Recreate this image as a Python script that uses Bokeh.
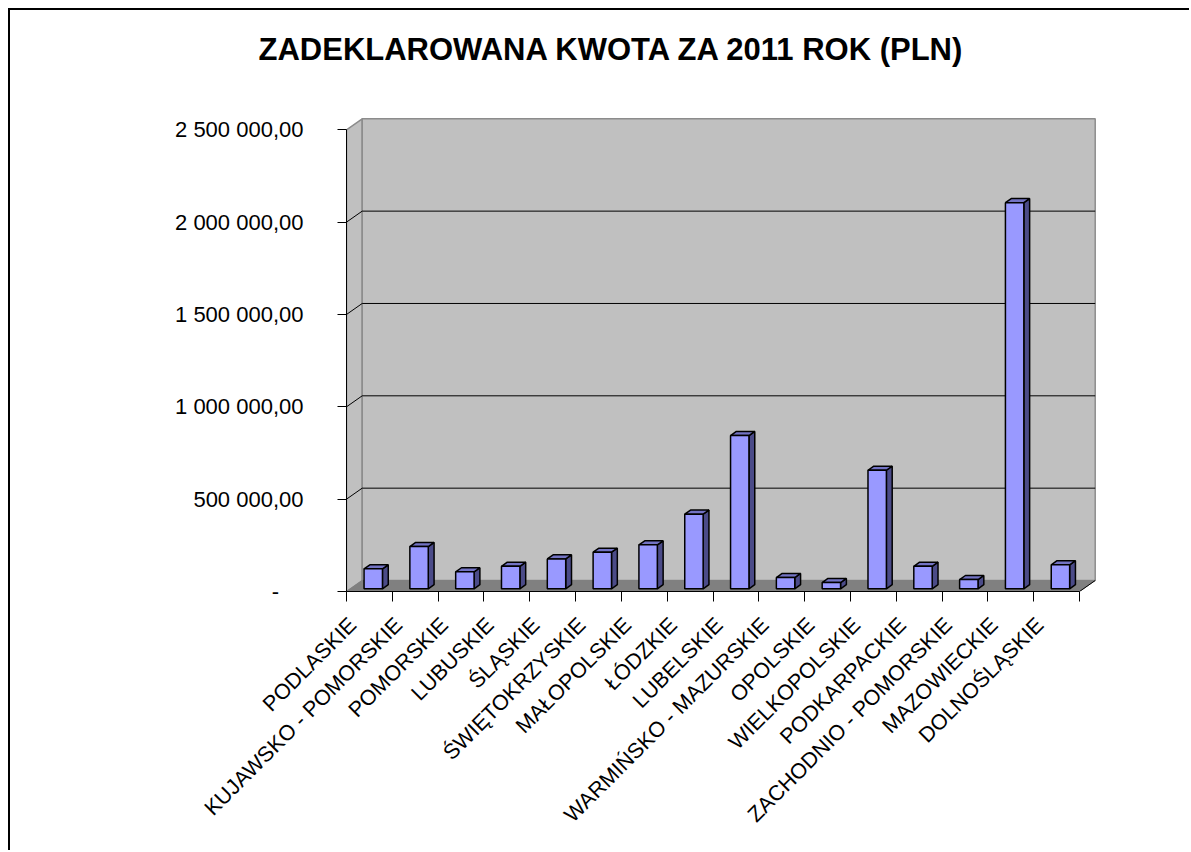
import math
from bokeh.plotting import figure
from bokeh.models import FixedTicker, Title
from bokeh.embed import file_html
from bokeh.resources import INLINE

# ---------------- data ----------------
regions = [
    "PODLASKIE", "KUJAWSKO - POMORSKIE", "POMORSKIE", "LUBUSKIE", "ŚLĄSKIE",
    "ŚWIĘTOKRZYSKIE", "MAŁOPOLSKIE", "ŁÓDZKIE", "LUBELSKIE",
    "WARMIŃSKO - MAZURSKIE", "OPOLSKIE", "WIELKOPOLSKIE", "PODKARPACKIE",
    "ZACHODNIO - POMORSKIE", "MAZOWIECKIE", "DOLNOŚLĄSKIE",
]
amounts = [108000, 229000, 92000, 122000, 162000, 198000, 238000, 404000,
           830000, 61000, 34000, 642000, 122000, 50000, 2091000, 130000]
y_ticks = [0, 500000, 1000000, 1500000, 2000000, 2500000]
y_tick_labels = ["-\u2007\u2007", "500 000,00", "1 000 000,00", "1 500 000,00",
                 "2 000 000,00", "2 500 000,00"]
title_text = "ZADEKLAROWANA KWOTA ZA 2011 ROK (PLN)"

# ---------------- layout (canvas pixels) ----------------
W, H = 1181, 842
FL, FR, FT, FB = 336, 1100, 102, 581
n = len(regions)
YMAX = y_ticks[-1]
X_PX = 733.0 / n            # px per category
Y_PX = 461.7 / YMAX         # px per unit
x_end = (FR - FL) / X_PX
y_end = (FB - FT) / Y_PX
DDX = 15.7 / X_PX           # depth offset (x)
DDY = 11.0 / Y_PX           # depth offset (y)
F, B = 0.245, 0.37          # bar front depth / bar depth (fractions)
BW = 18.4 / X_PX            # bar width
LBL_SHIFT = 16.6 / X_PX

FONT = "Liberation Sans"

p = figure(width=W, height=H, x_range=(0, x_end), y_range=(0, y_end),
           output_backend="svg", toolbar_location=None,
           min_border_left=FL, min_border_right=W - FR,
           min_border_top=FT, min_border_bottom=H - FB,
           background_fill_color="white", border_fill_color="white")
p.margin = (8, 0, 0, 8)
p.styles = {"border-top": "2px solid black", "border-left": "2px solid black"}
p.outline_line_color = None
p.xgrid.visible = False
p.ygrid.visible = False

# spacer between title and plot area, then the title itself
p.add_layout(Title(text=" ", text_font_size="1px", standoff=43), "above")
p.add_layout(Title(text=title_text, align="left", offset=-88, standoff=0,
                   vertical_align="bottom", text_font=FONT,
                   text_font_size="31px", text_font_style="bold",
                   text_color="black"), "above")

# walls and floor
p.patch([0, DDX, DDX, 0], [0, DDY, YMAX + DDY, YMAX],
        fill_color="#C0C0C0", line_color="#8C8C8C", line_width=1.5)
p.patch([DDX, n + DDX, n + DDX, DDX], [DDY, DDY, YMAX + DDY, YMAX + DDY],
        fill_color="#C0C0C0", line_color="#8C8C8C", line_width=1.5)
p.patch([0, n, n + DDX, DDX], [0, 0, DDY, DDY],
        fill_color="#808080", line_color="#808080", line_width=1)

grid = y_ticks[1:-1]
k = len(grid)
p.segment(x0=[DDX] * k, y0=[g + DDY for g in grid], x1=[n + DDX] * k,
          y1=[g + DDY for g in grid], line_color="black", line_width=1)
p.segment(x0=[0] * k, y0=grid, x1=[DDX] * k, y1=[g + DDY for g in grid],
          line_color="black", line_width=1)
p.segment(x0=[n], y0=[0], x1=[n + DDX], y1=[DDY], line_color="black", line_width=1)

# bars (3D)
left = [i + 0.5 - BW / 2 + F * DDX for i in range(n)]
right = [l + BW for l in left]
bottom = [F * DDY] * n
top = [v + F * DDY for v in amounts]
side_xs = [[r, r + B * DDX, r + B * DDX, r] for r in right]
side_ys = [[b, b + B * DDY, t + B * DDY, t] for b, t in zip(bottom, top)]
top_xs = [[l, r, r + B * DDX, l + B * DDX] for l, r in zip(left, right)]
top_ys = [[t, t, t + B * DDY, t + B * DDY] for t in top]

p.patches(side_xs, side_ys, fill_color="#4B4B88", line_color="black", line_width=1.5)
p.patches(top_xs, top_ys, fill_color="#7373C4", line_color="black", line_width=1.5)
p.quad(left=left, right=right, bottom=bottom, top=top,
       fill_color="#9999FF", line_color="black", line_width=1.5)

# y axis
ya = p.yaxis[0]
ya.ticker = FixedTicker(ticks=y_ticks, minor_ticks=[])
ya.major_label_overrides = {t: s for t, s in zip(y_ticks, y_tick_labels)}
ya.bounds = (0, YMAX)
ya.axis_line_color = "black"
ya.major_tick_line_color = "black"
ya.major_tick_out = 9
ya.major_tick_in = 0
ya.minor_tick_line_color = None
ya.major_label_standoff = 34
ya.major_label_text_font = FONT
ya.major_label_text_font_size = "22px"
ya.major_label_text_color = "black"

# x axis
label_ticks = [i + 0.5 - LBL_SHIFT for i in range(n)]
xa = p.xaxis[0]
xa.ticker = FixedTicker(ticks=label_ticks, minor_ticks=list(range(n + 1)))
xa.major_label_overrides = {t: s for t, s in zip(label_ticks, regions)}
xa.bounds = (0, n)
xa.axis_line_color = "black"
xa.major_tick_line_color = None
xa.major_tick_out = 0
xa.major_tick_in = 0
xa.minor_tick_line_color = "black"
xa.minor_tick_out = 10
xa.minor_tick_in = 0
xa.major_label_orientation = math.pi / 4
xa.major_label_standoff = 20
xa.major_label_text_font = FONT
xa.major_label_text_font_size = "21.5px"
xa.major_label_text_color = "black"

open("out.html", "w").write(file_html(p, INLINE))
